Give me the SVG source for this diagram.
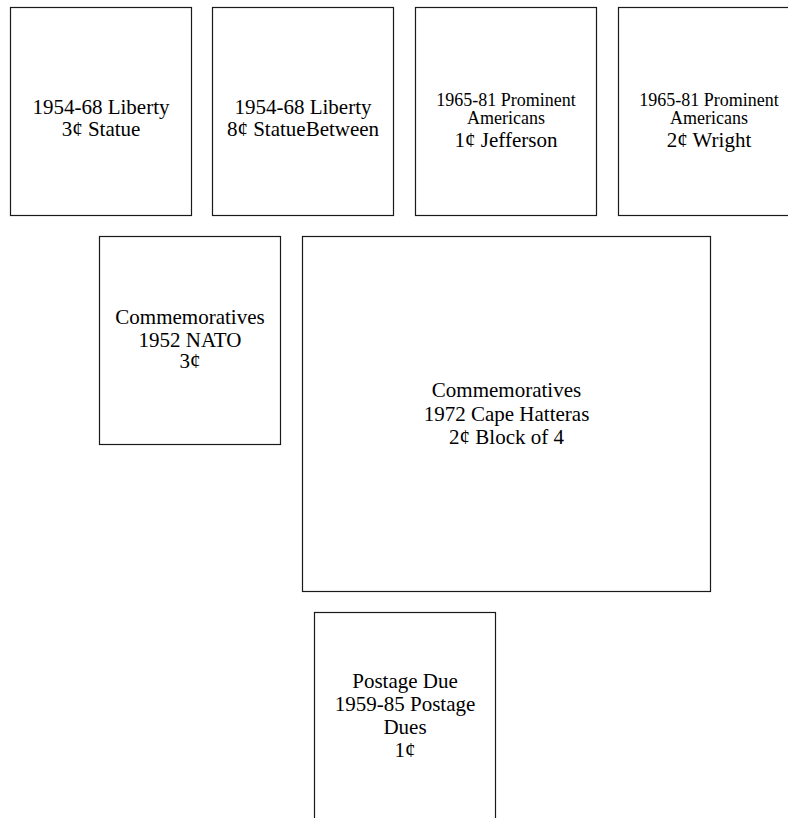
<svg xmlns="http://www.w3.org/2000/svg" width="788" height="818" viewBox="0 0 788 818">
<style>
.box{fill:#fff;stroke:#1a1a1a;stroke-width:1.2}
text{font-family:"Liberation Serif","Times New Roman",serif;font-size:21px;fill:#000;text-anchor:middle}
.s{font-size:18px}
</style>
<rect x="0" y="0" width="788" height="818" fill="#fff"/>
<g id="connectors"></g>
<g id="n1"><rect class="box" x="10.5" y="7.5" width="181" height="208"/>
<text x="101" y="114">1954-68 Liberty</text><text x="101" y="135.5">3¢ Statue</text></g>
<g id="n2"><rect class="box" x="212.5" y="7.5" width="181" height="208"/>
<text x="303" y="114">1954-68 Liberty</text><text x="303" y="135.5">8¢ StatueBetween</text></g>
<g id="n3"><rect class="box" x="415.5" y="7.5" width="181" height="208"/>
<text class="s" x="506" y="106">1965-81 Prominent</text><text class="s" x="506" y="124.3">Americans</text><text x="506" y="146.7">1¢ Jefferson</text></g>
<g id="n4"><rect class="box" x="618.5" y="7.5" width="181" height="208"/>
<text class="s" x="709" y="106">1965-81 Prominent</text><text class="s" x="709" y="124.3">Americans</text><text x="709" y="146.7">2¢ Wright</text></g>
<g id="n5"><rect class="box" x="99.5" y="236.5" width="181" height="208"/>
<text x="190" y="324">Commemoratives</text><text x="190" y="346.5">1952 NATO</text><text x="190" y="368">3¢</text></g>
<g id="n6"><rect class="box" x="302.5" y="236.5" width="408" height="355"/>
<text x="506.5" y="397.3">Commemoratives</text><text x="506.5" y="420.7">1972 Cape Hatteras</text><text x="506.5" y="444">2¢ Block of 4</text></g>
<g id="n7"><rect class="box" x="314.5" y="612.5" width="181" height="210"/>
<text x="405" y="688.3">Postage Due</text><text x="405" y="710.5">1959-85 Postage</text><text x="405" y="734">Dues</text><text x="405" y="757">1¢</text></g>
</svg>
